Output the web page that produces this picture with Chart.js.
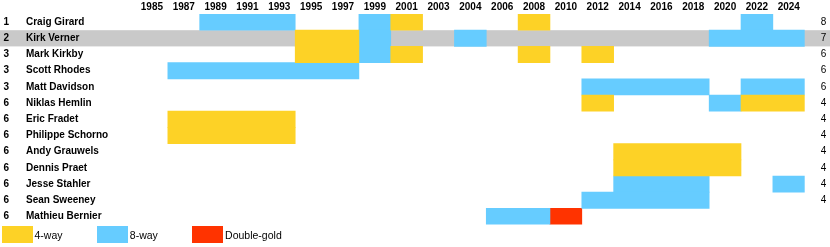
<!DOCTYPE html>
<html>
<head>
<meta charset="utf-8">
<script src="https://cdn.jsdelivr.net/npm/chart.js@4"></script>
<style>
  body { margin: 0; background: #fff; font-family: "Liberation Sans", Arial, sans-serif; }
  #wrap { position: relative; width: 830px; height: 247px; }
  #legend { position: absolute; left: 1.5px; top: 226px; display: flex; }
  #legend .item { display: flex; align-items: center; width: 95.3px; font-size: 10.5px; color: #000; }
  #legend .box { width: 31px; height: 17px; margin-right: 2px; }
</style>
</head>
<body>
<div id="wrap">
  <canvas id="myChart"></canvas>
  <div id="legend"></div>
</div>
<script>
const years = ['1985', '1987', '1989', '1991', '1993', '1995', '1997', '1999', '2001', '2003', '2004',
  '2006', '2008', '2010', '2012', '2014', '2016', '2018', '2020', '2022', '2024'];
const players = ['Craig Girard', 'Kirk Verner', 'Mark Kirkby', 'Scott Rhodes', 'Matt Davidson',
  'Niklas Hemlin', 'Eric Fradet', 'Philippe Schorno', 'Andy Grauwels', 'Dennis Praet',
  'Jesse Stahler', 'Sean Sweeney', 'Mathieu Bernier'];
const ranks = ['1', '2', '3', '3', '3', '6', '6', '6', '6', '6', '6', '6', '6'];
const totals = ['8', '7', '6', '6', '6', '4', '4', '4', '4', '4', '4', '4', ''];
const highlightPlayer = 'Kirk Verner';

// [player, first year, last year]
const fourWay = [
  ['Craig Girard', '2001', '2001'], ['Craig Girard', '2008', '2008'],
  ['Kirk Verner', '1995', '1997'],
  ['Mark Kirkby', '1995', '1997'], ['Mark Kirkby', '2001', '2001'],
  ['Mark Kirkby', '2008', '2008'], ['Mark Kirkby', '2012', '2012'],
  ['Niklas Hemlin', '2012', '2012'], ['Niklas Hemlin', '2022', '2024'],
  ['Eric Fradet', '1987', '1993'], ['Philippe Schorno', '1987', '1993'],
  ['Andy Grauwels', '2014', '2020'], ['Dennis Praet', '2014', '2020']
];
const eightWay = [
  ['Craig Girard', '1989', '1993'], ['Craig Girard', '1999', '1999'], ['Craig Girard', '2022', '2022'],
  ['Kirk Verner', '1999', '1999'], ['Kirk Verner', '2004', '2004'], ['Kirk Verner', '2020', '2024'],
  ['Mark Kirkby', '1999', '1999'],
  ['Scott Rhodes', '1987', '1997'],
  ['Matt Davidson', '2012', '2018'], ['Matt Davidson', '2022', '2024'],
  ['Niklas Hemlin', '2020', '2020'],
  ['Jesse Stahler', '2014', '2018'], ['Jesse Stahler', '2024', '2024'],
  ['Sean Sweeney', '2012', '2018'],
  ['Mathieu Bernier', '2006', '2008']
];
const doubleGold = [
  ['Mathieu Bernier', '2010', '2010']
];

const FONT = '"Liberation Sans", Arial, sans-serif';

function toBars(segments) {
  return segments.map(s => ({ y: s[0], x: [years.indexOf(s[1]), years.indexOf(s[2]) + 1] }));
}

function makeSet(label, segments, color) {
  return {
    label: label,
    data: toBars(segments),
    backgroundColor: color,
    borderWidth: 0,
    grouped: false,
    barPercentage: 1,
    categoryPercentage: 1
  };
}

// keep the row axes from pushing the plot area around
function fixRowAxis(width) {
  return scale => {
    scale.width = width;
    scale.paddingTop = 0;
    scale.paddingBottom = 0;
  };
}

// grey band behind the highlighted row, and rank numbers at the far left
const rowDecor = {
  id: 'rowDecor',
  beforeDraw(chart) {
    const { ctx, scales: { y } } = chart;
    const rowH = (y.bottom - y.top) / players.length;
    const yc = y.getPixelForValue(players.indexOf(highlightPlayer));
    ctx.save();
    ctx.fillStyle = '#c9c9c9';
    ctx.fillRect(0, yc - rowH / 2, chart.width, rowH);
    ctx.restore();
  },
  afterDraw(chart) {
    const { ctx, scales: { y } } = chart;
    ctx.save();
    ctx.font = 'bold 10px ' + FONT;
    ctx.fillStyle = '#000';
    ctx.textBaseline = 'middle';
    ctx.textAlign = 'left';
    ranks.forEach((r, i) => ctx.fillText(r, 3.5, y.getPixelForValue(i)));
    ctx.restore();
  }
};

const ctx = document.getElementById('myChart');
const myChart = new Chart(ctx, {
  type: 'bar',
  data: {
    labels: players,
    datasets: [
      makeSet('4-way', fourWay, '#fdd226'),
      makeSet('8-way', eightWay, '#66ccff'),
      makeSet('Double-gold', doubleGold, '#ff3300')
    ]
  },
  options: {
    indexAxis: 'y',
    responsive: true,
    maintainAspectRatio: false,
    animation: false,
    layout: { padding: { left: 26, right: 0, top: 0, bottom: 22.4 } },
    plugins: {
      legend: { display: false },
      tooltip: { enabled: false }
    },
    scales: {
      x: { type: 'linear', min: 0, max: years.length, display: false },
      xTop: {
        type: 'category',
        position: 'top',
        labels: years,
        offset: true,
        grid: { display: false, drawTicks: false },
        border: { display: false },
        ticks: { autoSkip: false, maxRotation: 0, padding: 1, color: '#000', font: { family: FONT, size: 10, weight: 'bold' } },
        afterFit: scale => { scale.height = 14; scale.paddingLeft = 0; scale.paddingRight = 0; }
      },
      y: {
        type: 'category',
        offset: true,
        grid: { display: false, drawTicks: false },
        border: { display: false },
        ticks: { crossAlign: 'far', padding: 0, color: '#000', font: { family: FONT, size: 10, weight: 'bold' } },
        afterFit: fixRowAxis(110)
      },
      y2: {
        type: 'category',
        position: 'right',
        labels: totals,
        offset: true,
        grid: { display: false, drawTicks: false },
        border: { display: false },
        ticks: { padding: 16, color: '#000', font: { family: FONT, size: 10 } },
        afterFit: fixRowAxis(25.3)
      }
    }
  },
  plugins: [rowDecor]
});

// html legend built from the datasets
const legendEl = document.getElementById('legend');
myChart.data.datasets.forEach(ds => {
  legendEl.innerHTML += `<div class="item"><span class="box" style="background:${ds.backgroundColor}"></span>${ds.label}</div>`;
});
</script>
</body>
</html>
